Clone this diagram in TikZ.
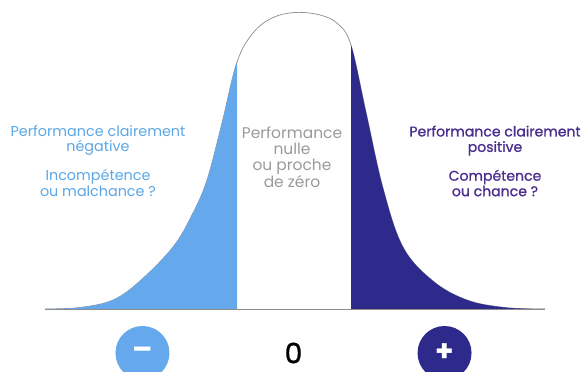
\documentclass[tikz,border=0pt]{standalone}
\usepackage{fontspec}
\setmainfont{Poppins}
\newfontfamily\posfont{Poppins}[FakeBold=1.2]

\definecolor{negblue}{HTML}{66A8EC}
\definecolor{negtext}{HTML}{5AA6E6}
\definecolor{posblue}{HTML}{2E2A8C}
\definecolor{postext}{HTML}{4A2F8E}
\definecolor{zerogray}{HTML}{9A9A9A}
\definecolor{axisgray}{HTML}{8C8C8C}

% bell curve, in pixel units
\def\bellcurve{plot[smooth, tension=0.6] coordinates {
  (45,309) (80,307.5) (113,300) (140,281) (173,247) (192,215) (207,180)
  (222,123) (237,62) (253,33) (272,18) (295,12.5) (320,15) (338,24)
  (351,45) (366,112) (383,188) (403,247) (433,281) (467,300) (505,307.5)
  (545,309)}}

\begin{document}
\begin{tikzpicture}[x=0.025cm, y=-0.025cm, node distance=3.775cm,
    txt/.style={align=center, inner sep=0pt, font=\fontsize{10.2}{11}\selectfont},
    sign/.style={circle, inner sep=0pt, minimum size=1.35cm, text=white,
                 font=\fontsize{21}{21}\selectfont\bfseries}]
  \useasboundingbox (0,0) rectangle (586,372);

  % outline first, the two tails are filled over it
  \draw[axisgray, line width=0.5pt] \bellcurve;
  \begin{scope}
    \clip (0,0) rectangle (237,372);
    \fill[negblue] \bellcurve -- cycle;
  \end{scope}
  \begin{scope}
    \clip (351,0) rectangle (586,372);
    \fill[posblue] \bellcurve -- cycle;
  \end{scope}
  \draw[axisgray, line width=0.6pt] (45,309) -- (545,309);

  \node[txt, text=negtext] (neg) at (98,161)
    {Performance clairement\\négative\\[9.5pt]Incompétence\\ou malchance ?};
  \node[txt, text=zerogray, font=\fontsize{11}{11.4}\selectfont] (nul) at (292,157)
    {Performance\\nulle\\ou proche\\de zéro};
  \node[txt, text=postext, font=\fontsize{10}{11}\posfont] (pos) at (495,161)
    {Performance clairement\\positive\\[9.5pt]Compétence\\ou chance ?};

  \node[font=\fontsize{20}{20}\posfont] (zero) at (293.5,353) {0};
  \node[sign, fill=negblue] (minus) [left of=zero]  {–};
  \node[sign, fill=posblue] (plus)  [right of=zero] {+};
\end{tikzpicture}
\end{document}
